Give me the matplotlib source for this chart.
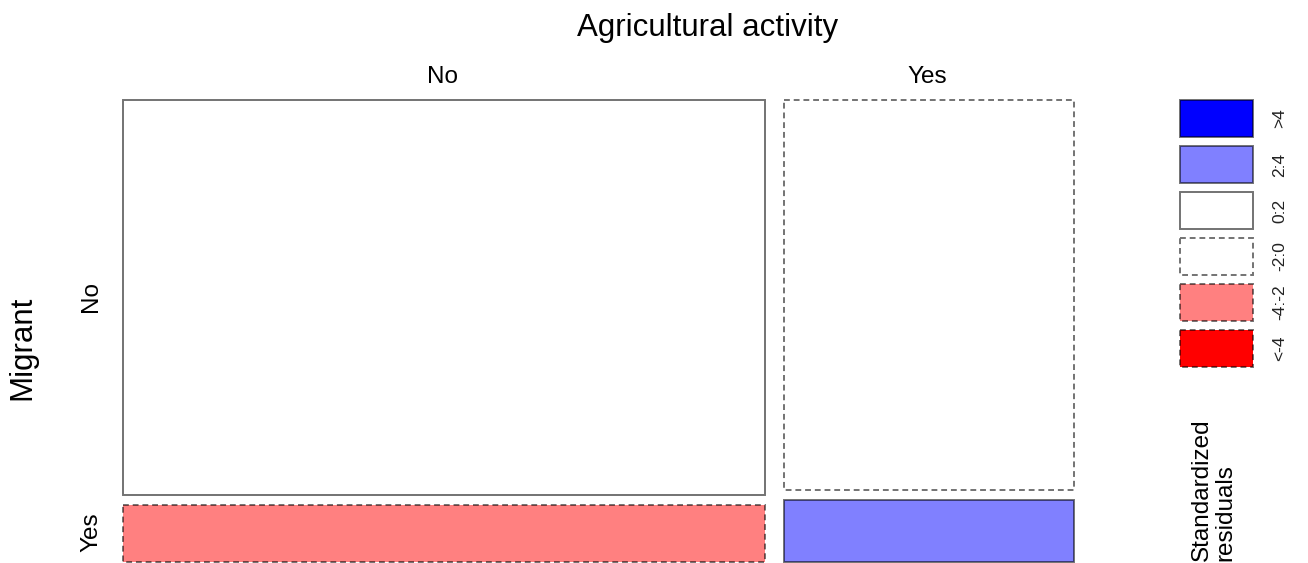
import numpy as np
import matplotlib
matplotlib.use("Agg")
import matplotlib.pyplot as plt
from matplotlib.patches import Rectangle

plt.rcParams['font.family'] = ['Liberation Sans', 'DejaVu Sans']

# counts: rows = Agricultural activity (No, Yes), cols = Migrant (No, Yes)
agri_levels = ["No", "Yes"]
migrant_levels = ["No", "Yes"]
counts = np.array([[54197, 7813],
                   [24155, 3835]])

bin_labels = [">4", "2:4", "0:2", "-2:0", "-4:-2", "<-4"]
bin_colors = ["#0000ff", "#8080ff", "#ffffff", "#ffffff", "#ff8080", "#ff0000"]
bin_dashed = [False, False, False, True, True, True]


def shade_index(r):
    if r > 4:
        return 0
    if r > 2:
        return 1
    if r > 0:
        return 2
    if r > -2:
        return 3
    if r > -4:
        return 4
    return 5


# pearson residuals
total = counts.sum()
expected = np.outer(counts.sum(axis=1), counts.sum(axis=0)) / total
resid = (counts - expected) / np.sqrt(expected)

W, H = 1308, 563
fig = plt.figure(figsize=(W / 100, H / 100), dpi=100)
ax = fig.add_axes([0, 0, 1, 1])
ax.set_xlim(0, W)
ax.set_ylim(H, 0)
ax.axis("off")

edge = (0, 0, 0, 0.55)

# mosaic area in pixel units
x0, x1, y0, y1 = 123, 1074, 100, 562
gx, gy = 19, 10.5

col_frac = counts.sum(axis=1) / total
widths = col_frac * (x1 - x0 - gx)
x = x0
for i, a in enumerate(agri_levels):
    w = widths[i]
    row_frac = counts[i] / counts[i].sum()
    heights = row_frac * (y1 - y0 - gy)
    y = y0
    for j, m in enumerate(migrant_levels):
        k = shade_index(resid[i, j])
        ls = (0, (3, 2)) if bin_dashed[k] else "-"
        ax.add_patch(Rectangle((x, y), w, heights[j], facecolor=bin_colors[k],
                               edgecolor=edge, lw=1.4, linestyle=ls))
        if i == 0:
            ax.text(91, y + heights[j] / 2 - 1, m, rotation=90, ha="center",
                    va="center", fontsize=17.5)
        y += heights[j] + gy
    ax.text(x + w / 2 - 2, 77, a, ha="center", va="center", fontsize=17.5)
    x += w + gx

ax.text(708, 28, "Agricultural activity", ha="center", va="center", fontsize=22.5)
ax.text(22, 348, "Migrant", rotation=90, ha="center", va="center", fontsize=22.5)

# shading legend
ly, lh, lstep = 100, 37, 46
for k, lab in enumerate(bin_labels):
    ls = (0, (3, 2)) if bin_dashed[k] else "-"
    top = ly + k * lstep
    ax.add_patch(Rectangle((1180, top), 73, lh, facecolor=bin_colors[k],
                           edgecolor=edge, lw=1.4, linestyle=ls))
    ax.text(1280, top + lh / 2, lab, rotation=90, ha="center", va="center",
            fontsize=12.5, color="#222222")

ax.text(1214, 561, "Standardized\nresiduals", rotation=90, ha="center",
        va="bottom", fontsize=17.5, multialignment="left", linespacing=1.1)

fig.savefig("out.png", dpi=100)
